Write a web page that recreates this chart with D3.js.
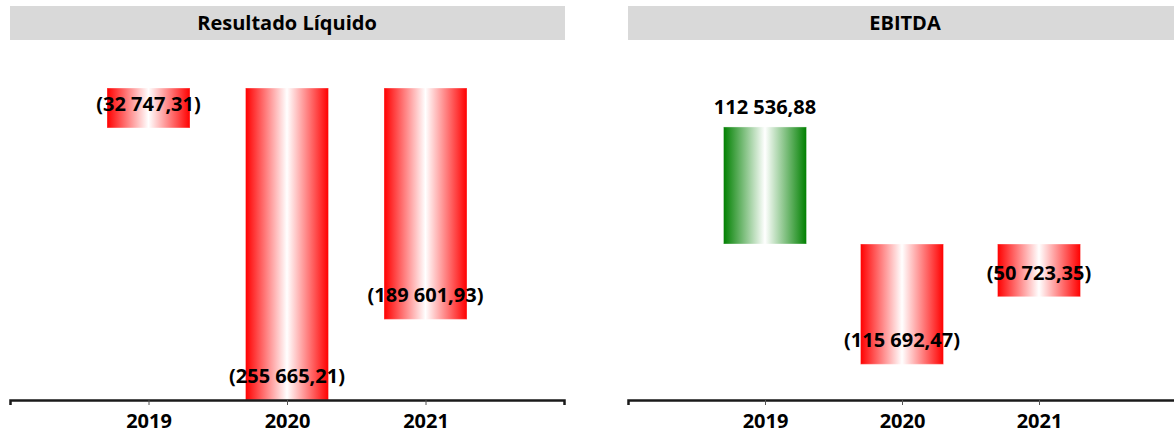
<!DOCTYPE html>
<html>
<head>
	<meta charset="utf-8">
	<title>Resultado Líquido / EBITDA</title>
	<script src="https://cdn.jsdelivr.net/npm/d3@7"></script>
	<style>
		body {
			margin: 0;
			background: #fff;
			font-family: "Open Sans", "Noto Sans", sans-serif;
		}
	</style>
</head>
<body>
	<div id="chart"></div>
	<script>
		// data
		const years = ["2019", "2020", "2021"];
		const resultadoLiquido = [-32747.31, -255665.21, -189601.93];
		const ebitda = [112536.88, -115692.47, -50723.35];
		const titles = ["Resultado Líquido", "EBITDA"];
		const yDomains = [[-255665.21, 0], [-150000, 150000]];

		const width = 1174;
		const height = 435;
		const fontSize = "20px";

		const locale = d3.formatLocale({decimal: ",", thousands: " ", grouping: [3], currency: ["", ""]});
		const num = locale.format(",.2f");
		const fmt = v => v < 0 ? `(${num(-v)})` : num(v);

		const svg = d3.select("#chart")
			.append("svg")
			.attr("width", width)
			.attr("height", height)
			.attr("viewBox", [0, 0, width, height]);

		// gradients, red for losses and green for gains
		const defs = svg.append("defs");
		[["gradRed", "#ff0000"], ["gradGreen", "#008000"]].forEach(([id, c]) => {
			const lg = defs.append("linearGradient").attr("id", id)
				.attr("x1", "0%").attr("x2", "100%").attr("y1", "0%").attr("y2", "0%");
			lg.append("stop").attr("offset", "0%").attr("stop-color", c);
			lg.append("stop").attr("offset", "50%").attr("stop-color", "#ffffff");
			lg.append("stop").attr("offset", "100%").attr("stop-color", c);
		});

		function panel(left, panelWidth, title, values, yDomain) {
			const plotTop = 88, plotBottom = 400;
			const g = svg.append("g");

			const x = d3.scalePoint()
				.domain(years)
				.range([left, left + panelWidth])
				.padding(1);
			const y = d3.scaleLinear()
				.domain(yDomain)
				.range([plotBottom, plotTop]);
			const barWidth = 83;

			// title bar
			g.append("rect")
				.attr("x", left)
				.attr("y", 6)
				.attr("width", panelWidth + 1)
				.attr("height", 34)
				.attr("fill", "#d9d9d9");
			g.append("text")
				.attr("x", left + 277)
				.attr("y", 23)
				.attr("dy", "0.35em")
				.attr("text-anchor", "middle")
				.style("font-size", "20px")
				.style("font-weight", "bold")
				.text(title);

			// bars
			g.selectAll(".bar")
				.data(values)
				.join("rect")
				.attr("class", "bar")
				.attr("x", (d, i) => x(years[i]) - barWidth / 2)
				.attr("y", d => y(Math.max(0, d)))
				.attr("width", barWidth)
				.attr("height", d => Math.abs(y(d) - y(0)))
				.attr("fill", d => d < 0 ? "url(#gradRed)" : "url(#gradGreen)")
				.attr("stroke", "#fff")
				.attr("stroke-opacity", 0.35)
				.attr("stroke-width", 1);

			// axis
			g.append("g")
				.attr("transform", `translate(0,${plotBottom})`)
				.call(d3.axisBottom(x).tickSizeInner(5).tickSizeOuter(5).tickPadding(9))
				.call(a => a.select(".domain").attr("stroke", "#1a1a1a").attr("stroke-width", 2.5))
				.call(a => a.selectAll(".tick line").attr("stroke", "#555"))
				.call(a => a.selectAll(".tick text")
					.attr("fill", "#000")
					.style("font-family", "'Open Sans', 'Noto Sans', sans-serif")
					.style("font-size", fontSize)
					.style("font-weight", "bold"));

			// value labels
			g.selectAll(".lbl")
				.data(values)
				.join("text")
				.attr("class", "lbl")
				.attr("x", (d, i) => x(years[i]))
				.attr("y", d => d < 0 ? y(d) - 24 : y(d) - 20)
				.attr("dy", "0.35em")
				.attr("text-anchor", "middle")
				.style("font-size", fontSize)
				.style("font-weight", "bold")
				.attr("fill", "#000")
				.text(d => fmt(d));
		}

		panel(10, 554, titles[0], resultadoLiquido, yDomains[0]);
		panel(628, 548, titles[1], ebitda, yDomains[1]);
	</script>
</body>
</html>
